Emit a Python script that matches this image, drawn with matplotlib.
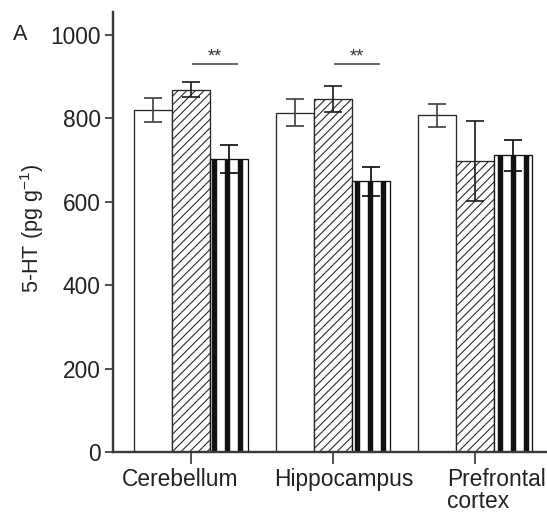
import matplotlib
matplotlib.use("Agg")
import matplotlib.pyplot as plt
import matplotlib.transforms as mtransforms
import numpy as np

plt.rcParams['font.family'] = ['Liberation Sans', 'DejaVu Sans']
plt.rcParams['mathtext.fontset'] = 'custom'
plt.rcParams['mathtext.rm'] = 'Liberation Sans'
plt.rcParams['mathtext.default'] = 'regular'

# ---- data ----
regions = ["Cerebellum", "Hippocampus", "Prefrontal\ncortex"]
white_vals = [820, 814, 807]
white_err = [28, 32, 28]
hatched_vals = [869, 847, 697]
hatched_err = [19, 31, 96]
striped_vals = [702, 649, 711]
striped_err = [33, 34, 37]
yticks = [0, 200, 400, 600, 800, 1000]
sig_labels = ["**", "**", None]

DPI = 78
W, H = 547, 515
fig = plt.figure(figsize=(W / DPI, H / DPI), dpi=DPI)
ax = fig.add_axes([113 / W, (515 - 452) / H, 1 - 113 / W, (452 - 12) / H])

x = np.arange(len(regions))
bw = 0.268
dark = '#262626'

ax.bar(x - bw, white_vals, bw, color='white', edgecolor=dark, linewidth=1.2, zorder=2)
with plt.rc_context({'hatch.linewidth': 1.0}):
    hb = ax.bar(x, hatched_vals, bw, color='white', edgecolor=dark, linewidth=1.2,
                hatch='///', zorder=2)
    for p in hb:
        if hasattr(p, 'set_hatch_linewidth'):
            p.set_hatch_linewidth(1.0)
with plt.rc_context({'hatch.linewidth': 5.0}):
    sb = ax.bar(x + bw, striped_vals, bw, color='white', edgecolor='#111111', linewidth=1.2,
                hatch='|', zorder=2)
    for p in sb:
        if hasattr(p, 'set_hatch_linewidth'):
            p.set_hatch_linewidth(5.0)

ekw = dict(fmt='none', capsize=8, capthick=1.6, elinewidth=1.6, zorder=3)
ax.errorbar(x - bw, white_vals, yerr=white_err, ecolor='#444444', **ekw)
ax.errorbar(x, hatched_vals, yerr=hatched_err, ecolor='#222222', **ekw)
ax.errorbar(x + bw, striped_vals, yerr=striped_err, ecolor='#111111', **ekw)

# significance markers
for i, s in enumerate(sig_labels):
    if s:
        ax.plot([x[i] + 0.01, x[i] + 0.33], [931, 931], color='#555555', lw=1.6,
                solid_capstyle='butt', zorder=3)
        ax.text(x[i] + 0.17, 947, s, ha='center', va='center', fontsize=17,
                color='#333333')

ax.set_xlim(-0.549, 2.507)
ax.set_ylim(0, 1055)
ax.set_yticks(yticks)
ax.set_yticklabels([str(v) for v in yticks])
ax.set_xticks(x)
ax.set_xticklabels(regions)

for side in ['top', 'right']:
    ax.spines[side].set_visible(False)
for side in ['left', 'bottom']:
    ax.spines[side].set_linewidth(2.2)
    ax.spines[side].set_color('#3a3a3a')

ax.tick_params(axis='y', length=7.5, width=1.6, pad=4, labelsize=21, colors='#3a3a3a',
               labelcolor='#222222')
ax.tick_params(axis='x', length=11, width=1.6, pad=4, labelsize=21, colors='#3a3a3a',
               labelcolor='#222222')

offsets_px = [-11, 11, -28]
for lab, dx in zip(ax.get_xticklabels(), offsets_px):
    lab.set_transform(lab.get_transform() +
                      mtransforms.ScaledTranslation(dx / DPI, 0, fig.dpi_scale_trans))
    lab.set_linespacing(0.95)
labs = ax.get_xticklabels()
labs[2].set_horizontalalignment('left')
labs[2].set_multialignment('left')

ax.set_ylabel('5-HT (pg g$^{-1}$)', fontsize=20, color='#222222')
ax.yaxis.set_label_coords(-(113 - 46) / (W - 113), (452 - 228) / (452 - 12))

fig.text(20 / W, 1 - 34 / H, 'A', fontsize=20, ha='center', va='center', color='#222222')

fig.savefig('out.png', dpi=DPI)
